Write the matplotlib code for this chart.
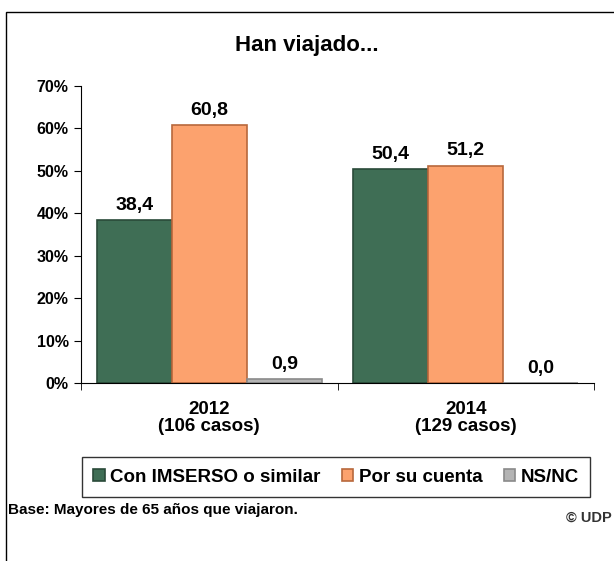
import matplotlib.pyplot as plt
from matplotlib.patches import Rectangle

plt.rcParams['font.family'] = ['Liberation Sans', 'DejaVu Sans']
plt.rcParams['font.weight'] = 'bold'

# datos
grupos = ['2012\n(106 casos)', '2014\n(129 casos)']
series = ['Con IMSERSO o similar', 'Por su cuenta', 'NS/NC']
valores = [
    [38.4, 50.4],   # Con IMSERSO o similar
    [60.8, 51.2],   # Por su cuenta
    [0.9, 0.0],     # NS/NC
]
colores = ['#3F6E55', '#FCA26E', '#B4B4B4']
bordes = ['#2A4A39', '#B8683C', '#8A8A8A']

fig = plt.figure(figsize=(6.14, 5.61), dpi=100)
ax = fig.add_axes([81 / 614, 1 - 383 / 561, 513 / 614, 297 / 561])

ancho = 0.293
for k, (nombre, vals) in enumerate(zip(series, valores)):
    xs = [i + (k - 1) * ancho for i in range(len(grupos))]
    ax.bar(xs, vals, width=ancho, color=colores[k], edgecolor=bordes[k],
           linewidth=1.2, label=nombre)
    for x, v in zip(xs, vals):
        ax.text(x, v + 1.5, f'{v:.1f}'.replace('.', ','), ha='center', va='bottom',
                fontsize=14, fontweight='bold')

ax.set_xlim(-0.5, 1.5)
ax.set_ylim(0, 70)
ax.set_yticks(range(0, 71, 10))
ax.set_yticklabels([f'{t}%' for t in range(0, 71, 10)], fontsize=11.5)
ax.set_xticks([0, 1])
ax.set_xticklabels(grupos, fontsize=13.5, linespacing=1.0)
ax.set_xticks([-0.5, 0.5, 1.5], minor=True)
ax.tick_params(axis='x', which='major', length=0, pad=13)
ax.tick_params(axis='x', which='minor', length=5, direction='out')
ax.tick_params(axis='y', length=5, direction='out', pad=4)
for s in ['top', 'right']:
    ax.spines[s].set_visible(False)

fig.text(0.5, 1 - 45 / 561, 'Han viajado...', ha='center', va='center',
         fontsize=16, fontweight='bold')

# leyenda
leg = fig.legend(loc='center', ncol=3, mode='expand',
                 bbox_to_anchor=(82 / 614, 1 - 502 / 561, 508 / 614, 50 / 561),
                 fancybox=False, edgecolor='black', fontsize=13.5,
                 handlelength=0.6, handleheight=0.6, handletextpad=0.3,
                 borderaxespad=0, borderpad=0.6)
leg.get_frame().set_linewidth(1.0)

fig.text(8 / 614, 1 - 510 / 561, 'Base: Mayores de 65 años que viajaron.',
         ha='left', va='center', fontsize=11, fontweight='bold')
fig.text(612 / 614, 1 - 518 / 561, '© UDP', ha='right', va='center',
         fontsize=10.5, fontweight='bold', color='#333333')

# marco exterior
fig.patches.append(Rectangle((6 / 614, -0.05), 1, 1 - 12 / 561 + 0.05,
                             transform=fig.transFigure, fill=False,
                             edgecolor='black', linewidth=1.0))

fig.savefig('out.png', dpi=100)
